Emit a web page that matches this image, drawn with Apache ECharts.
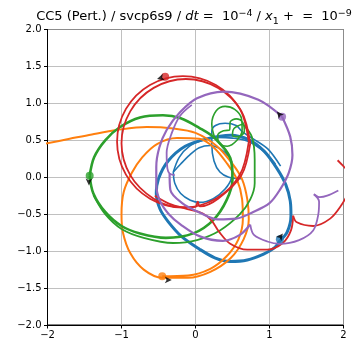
<!DOCTYPE html>
<html><head><meta charset="utf-8">
<script src="https://cdn.jsdelivr.net/npm/echarts@6/dist/echarts.min.js"></script>
<style>html,body{margin:0;padding:0;background:#fff}#c{width:358px;height:345px}</style>
</head><body><div id="c"></div>
<script>
const xTicks = [-2, -1, 0, 1, 2];
const yTicks = [-2.0, -1.5, -1.0, -0.5, 0.0, 0.5, 1.0, 1.5, 2.0];

// Body 1 (blue)
const blueOuter = [[1.14,-0.86],[1.24,-0.74],[1.29,-0.52],[1.28,-0.32],[1.22,-0.1],[1.1,0.12],[0.93,0.35],[0.72,0.51],[0.47,0.57],[0.15,0.52],[-0.14,0.42],[-0.37,0.22],[-0.5,-0.02],[-0.53,-0.22],[-0.48,-0.43],[-0.37,-0.6],[-0.19,-0.8],[0.05,-0.97],[0.26,-1.09],[0.47,-1.14],[0.7,-1.12],[0.92,-1.04],[1.06,-0.96],[1.14,-0.86]];
const blueInnerA = [[1.08,0.18],[0.9,0.37],[0.7,0.49],[0.5,0.53],[0.3,0.54],[0.1,0.5],[-0.08,0.42],[-0.22,0.27],[-0.3,0.07]];
const blueInnerB = [[-0.3,0.07],[-0.28,-0.08],[-0.2,-0.22],[-0.07,-0.31],[0.06,-0.34],[0.24,-0.29],[0.4,-0.16],[0.49,0.0],[0.5,0.14],[0.46,0.27],[0.34,0.38],[0.2,0.43],[0.05,0.4],[-0.08,0.3],[-0.2,0.18],[-0.3,0.07]];
const blueVert = [[0.62,-0.02],[0.45,0.0],[0.33,0.07],[0.25,0.22],[0.22,0.45],[0.22,0.62],[0.27,0.7],[0.4,0.73],[0.55,0.7],[0.64,0.61],[0.78,0.52],[0.98,0.38],[1.15,0.15]];

// Body 2 (orange)
const orangePath = [[-2.05,0.45],[-1.7,0.52],[-1.4,0.58],[-1.06,0.64],[-0.66,0.68],[-0.3,0.66],[0.0,0.6],[0.29,0.42],[0.5,0.18],[0.63,-0.03],[0.7,-0.3],[0.72,-0.57],[0.65,-0.84],[0.47,-1.1],[0.2,-1.28],[-0.1,-1.36],[-0.45,-1.36],[-0.7,-1.25],[-0.88,-1.03],[-0.98,-0.75],[-1.0,-0.5],[-0.97,-0.2],[-0.86,0.06],[-0.72,0.27],[-0.52,0.45],[-0.25,0.53],[0.05,0.52],[0.25,0.4],[0.43,0.18],[0.56,-0.03],[0.63,-0.3],[0.64,-0.57],[0.58,-0.84],[0.42,-1.07],[0.2,-1.24],[-0.1,-1.33],[-0.45,-1.34]];

// Body 3 (green)
const greenBig = [[-1.43,0.02],[-1.38,-0.22],[-1.22,-0.47],[-1.0,-0.66],[-0.75,-0.76],[-0.4,-0.82],[-0.03,-0.76],[0.24,-0.58],[0.42,-0.31],[0.5,-0.03],[0.47,0.26],[0.26,0.53],[0.05,0.67],[-0.2,0.8],[-0.44,0.84],[-0.75,0.81],[-1.02,0.68],[-1.22,0.5],[-1.37,0.27],[-1.43,0.02]];
const greenOuter = [[0.64,0.72],[0.76,0.55],[0.8,0.24],[0.8,-0.08],[0.74,-0.3],[0.6,-0.5],[0.33,-0.72],[0.02,-0.85],[-0.3,-0.89],[-0.7,-0.82],[-1.0,-0.7],[-1.22,-0.5],[-1.38,-0.24]];
const greenLoops = [[0.26,0.53],[0.22,0.72],[0.28,0.9],[0.4,0.96],[0.53,0.92],[0.62,0.8],[0.63,0.64],[0.56,0.5],[0.43,0.42],[0.32,0.46],[0.3,0.57],[0.38,0.63],[0.46,0.64],[0.47,0.75],[0.55,0.79],[0.64,0.74],[0.66,0.62],[0.58,0.55],[0.5,0.57],[0.52,0.66],[0.64,0.72]];

// Body 4 (red)
const redLoop1 = [[0.72,0.48],[0.60,0.925],[0.275,1.25],[-0.17,1.37],[-0.615,1.25],[-0.94,0.925],[-1.06,0.48],[-0.94,0.035],[-0.615,-0.29],[-0.17,-0.41],[0.275,-0.29],[0.60,0.035],[0.72,0.48]];
const redLoop2 = [[0.74,0.46],[0.62,0.895],[0.305,1.21],[-0.13,1.33],[-0.565,1.21],[-0.88,0.895],[-1.0,0.46],[-0.88,0.025],[-0.565,-0.29],[-0.2,-0.405],[0.0,-0.40],[0.03,-0.33],[0.06,-0.395],[0.305,-0.29],[0.62,0.025],[0.74,0.46]];
const redArcA = [[-0.55,-0.25],[-0.35,-0.36],[-0.11,-0.43],[0.1,-0.49],[0.22,-0.59],[0.32,-0.74],[0.47,-0.9],[0.7,-0.98],[0.97,-0.98],[1.18,-0.89],[1.29,-0.72],[1.32,-0.52]];
const redArcB = [[1.32,-0.52],[1.37,-0.61],[1.59,-0.66],[1.82,-0.56],[1.97,-0.38],[2.1,-0.15]];
const redEdge = [[1.92,0.23],[2.05,0.1]];

// Body 5 (purple)
const purpleOuter = [[1.17,0.82],[0.85,1.05],[0.38,1.16],[0.02,1.07],[-0.21,0.88],[-0.39,0.64],[-0.49,0.4],[-0.53,0.14],[-0.53,-0.1],[-0.48,-0.32],[-0.36,-0.5],[-0.2,-0.64],[0.06,-0.8],[0.37,-0.86],[0.6,-0.78],[0.74,-0.64]];
const purpleScallop = [[0.74,-0.64],[0.79,-0.78],[0.97,-0.87],[1.14,-0.9],[1.4,-0.85],[1.59,-0.72],[1.66,-0.5],[1.67,-0.33],[1.6,-0.23]];
const purpleTail = [[1.6,-0.23],[1.68,-0.27],[1.78,-0.25],[1.93,-0.18]];
const purpleInnerA = [[-0.05,0.98],[-0.21,0.83],[-0.32,0.6],[-0.39,0.33],[-0.38,0.12],[-0.35,0.05],[-0.28,0.03]];
const purpleInnerB = [[-0.35,0.05],[-0.34,-0.17],[-0.18,-0.35],[0.06,-0.48],[0.3,-0.57],[0.55,-0.56],[0.78,-0.47],[1.0,-0.35],[1.14,-0.17],[1.26,0.06],[1.31,0.3],[1.28,0.55],[1.17,0.82]];

// final positions and arrows
const finalPos = [[1.14,-0.84],[-0.45,-1.34],[-1.43,0.02],[-0.41,1.36],[1.17,0.82]];
const arrowPos = [[1.18,-0.76],[-0.32,-1.39],[-1.44,-0.11],[-0.52,1.33],[1.1,0.89]];
const arrowAngle = [-36, -90, 180, 106, 40];
const colors = ['#1f77b4','#ff7f0e','#2ca02c','#d62728','#9467bd'];

function line(data, color, w, smooth) {
  return {type:'line', data:data, showSymbol:false, symbol:'none', smooth: smooth===undefined?0.33:smooth,
    lineStyle:{color:color, width:w}, clip:true, silent:true, animation:false};
}
const series = [
  line(blueOuter, colors[0], 3),
  line(blueInnerA, colors[0], 1.6),
  line(blueInnerB, colors[0], 1.6),
  line(blueVert, colors[0], 1.6),
  line(orangePath, colors[1], 2),
  line(greenBig, colors[2], 2.6),
  line(greenOuter, colors[2], 1.8),
  line(greenLoops, colors[2], 1.6),
  line(redLoop1, colors[3], 1.8),
  line(redLoop2, colors[3], 1.8),
  line(redArcA, colors[3], 1.8),
  line(redArcB, colors[3], 1.8),
  line(redEdge, colors[3], 1.8, false),
  line(purpleOuter, colors[4], 2.2),
  line(purpleScallop, colors[4], 1.8),
  line(purpleTail, colors[4], 1.8),
  line(purpleInnerA, colors[4], 1.8),
  line(purpleInnerB, colors[4], 2.2),
  {type:'scatter', data: finalPos.map((p,i)=>({value:p, itemStyle:{color:colors[i]}})), symbolSize:8, silent:true, animation:false, z:5},
  {type:'scatter', data: arrowPos.map((p,i)=>({value:p, symbolRotate:arrowAngle[i]})), symbol:'arrow', symbolSize:[5,7], itemStyle:{color:'#000'}, silent:true, animation:false, z:6}
];

const chart = echarts.init(document.getElementById('c'), null, {renderer:'canvas'});
chart.setOption({
  animation:false,
  backgroundColor:'#fff',
  title:{
    text:'CC5 (Pert.) / svcp6s9 / {i|dt}{t| =  }10{sup|−4} / {i|x}{sub|1}{t| +  =  }10{sup|−9}',
    left:189, top:4, textAlign:'center',
    textStyle:{fontFamily:'DejaVu Sans', fontSize:13, fontWeight:'normal', color:'#000',
      rich:{
        t:{fontFamily:'DejaVu Sans', fontSize:13, color:'#000'},
        i:{fontFamily:'DejaVu Sans', fontStyle:'italic', fontSize:13, color:'#000'},
        sup:{fontFamily:'DejaVu Sans', fontSize:9.5, color:'#000', verticalAlign:'top', lineHeight:15},
        sub:{fontFamily:'DejaVu Sans', fontSize:9.5, color:'#000', verticalAlign:'bottom', padding:[0,0,-3,0]}
      }}
  },
  grid:{left:47.5, right:14.5, top:29.5, bottom:20, show:true, borderColor:'#000', borderWidth:1, backgroundColor:'transparent'},
  xAxis:{type:'value', min:-2, max:2, interval:1,
    axisLine:{show:true, onZero:false, lineStyle:{color:'#000', width:1}},
    axisTick:{show:true, length:3.5, lineStyle:{color:'#000'}},
    axisLabel:{color:'#000', fontSize:10, fontFamily:'DejaVu Sans', margin:5,
      formatter:v=>xTicks.includes(v)?String(v).replace('-','−'):''},
    splitLine:{show:true, lineStyle:{color:'#b0b0b0', width:0.8}}},
  yAxis:{type:'value', min:-2, max:2, interval:0.5,
    axisLine:{show:true, onZero:false, lineStyle:{color:'#000', width:1}},
    axisTick:{show:true, length:3.5, lineStyle:{color:'#000'}},
    axisLabel:{color:'#000', fontSize:10, fontFamily:'DejaVu Sans', margin:6,
      formatter:v=>{const t=yTicks.find(a=>Math.abs(a-v)<1e-9); return t===undefined?'':t.toFixed(1).replace('-','−');}},
    splitLine:{show:true, lineStyle:{color:'#b0b0b0', width:0.8}}},
  series: series
});
</script></body></html>
